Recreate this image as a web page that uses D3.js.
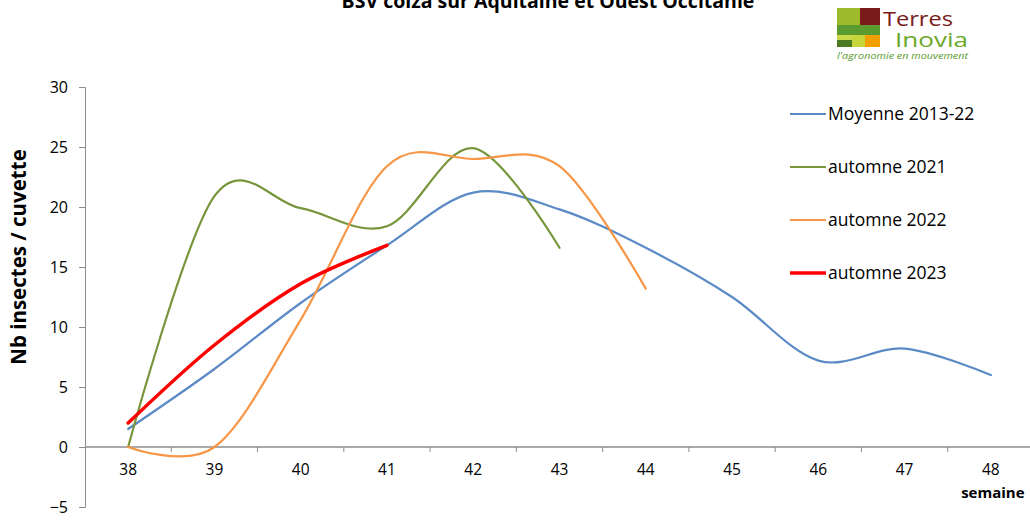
<!DOCTYPE html>
<html>
<head>
<meta charset="utf-8">
<script src="https://cdn.jsdelivr.net/npm/d3@7"></script>
<style>
  body { margin: 0; background: #fff; }
  svg { display: block; font-family: "Open Sans", "DejaVu Sans", sans-serif; }
</style>
</head>
<body>
<svg id="chart" width="1030" height="524"></svg>
<script>
const width = 1030
const height = 524
const margin = { top: 87, right: -4, bottom: 17, left: 85 }

const weeks = [38, 39, 40, 41, 42, 43, 44, 45, 46, 47, 48]
const yTicks = [-5, 0, 5, 10, 15, 20, 25, 30]

const moyenne = [1.5, 6.5, 12, 16.8, 21.2, 19.8, 16.6, 12.5, 7.2, 8.2, 6]
const automne2021 = [0, 20.9, 19.9, 18.4, 24.9, 16.6]
const automne2022 = [0, 0, 10.6, 23.4, 24, 23.4, 13.2]
const automne2023 = [2, 8.5, 13.6, 16.8]

const seriesNames = ['Moyenne 2013-22', 'automne 2021', 'automne 2022', 'automne 2023']
const seriesValues = [moyenne, automne2021, automne2022, automne2023]
const seriesColors = ['#5b8ac6', '#77963c', '#f79646', '#ff0000']
const seriesWidths = [2.2, 2.2, 2.2, 3.5]

const svg = d3.select('#chart')

const x = d3.scaleBand()
  .domain(weeks)
  .range([margin.left, width - margin.right])

const y = d3.scaleLinear()
  .domain([-5, 30])
  .range([height - margin.bottom, margin.top])

// title, cut at the top like the original
svg.append('text')
  .attr('x', 548).attr('y', 8)
  .attr('text-anchor', 'middle')
  .attr('font-size', 19.5).attr('font-weight', 'bold')
  .attr('fill', '#000')
  .text('BSV colza sur Aquitaine et Ouest Occitanie')

// y axis
const yAxis = svg.append('g')
  .attr('transform', `translate(${margin.left},0)`)
  .call(d3.axisLeft(y).tickValues(yTicks).tickSize(6).tickPadding(11))
yAxis.select('.domain').attr('stroke', '#8c8c8c')
yAxis.selectAll('.tick line').attr('stroke', '#8c8c8c')
yAxis.selectAll('.tick text').attr('font-size', 16).attr('fill', '#000')
  .attr('font-family', 'Open Sans, sans-serif')

// x axis at zero, ticks between categories
const xg = svg.append('g').attr('transform', `translate(0,${y(0)})`)
xg.append('line')
  .attr('x1', margin.left).attr('x2', width)
  .attr('stroke', '#8c8c8c').attr('stroke-width', 1.5)
xg.selectAll('line.tk')
  .data(weeks.slice(0, -1))
  .join('line')
  .attr('class', 'tk')
  .attr('x1', d => x(d) + x.bandwidth()).attr('x2', d => x(d) + x.bandwidth())
  .attr('y1', 0).attr('y2', 5)
  .attr('stroke', '#8c8c8c')
xg.selectAll('text')
  .data(weeks)
  .join('text')
  .attr('x', d => x(d) + x.bandwidth() / 2)
  .attr('y', 28)
  .attr('text-anchor', 'middle')
  .attr('font-size', 15.5)
  .text(d => d)

svg.append('text')
  .attr('x', x(48) + x.bandwidth() / 2 + 2).attr('y', y(0) + 51)
  .attr('text-anchor', 'middle')
  .attr('font-size', 15).attr('font-weight', 'bold')
  .text('semaine')

svg.append('text')
  .attr('transform', `translate(26,${(y(30) + y(-5)) / 2 - 40}) rotate(-90)`)
  .attr('text-anchor', 'middle')
  .attr('font-size', 20.5).attr('font-weight', 'bold')
  .text('Nb insectes / cuvette')

// lines
const line = d3.line()
  .x((d, i) => x(weeks[i]) + x.bandwidth() / 2)
  .y(d => y(d))
  .curve(d3.curveCatmullRom.alpha(0))

svg.append('g')
  .selectAll('path')
  .data(seriesValues)
  .join('path')
  .attr('d', d => line(d))
  .attr('fill', 'none')
  .attr('stroke', (d, i) => seriesColors[i])
  .attr('stroke-width', (d, i) => seriesWidths[i])
  .attr('stroke-linecap', 'round')

// legend
const legend = svg.append('g')
  .selectAll('g')
  .data(seriesNames)
  .join('g')
  .attr('transform', (d, i) => `translate(790,${114 + i * 53})`)
legend.append('line')
  .attr('x1', 0).attr('x2', 36)
  .attr('stroke', (d, i) => seriesColors[i])
  .attr('stroke-width', (d, i) => seriesWidths[i])
legend.append('text')
  .attr('x', 38).attr('dy', '0.35em')
  .attr('font-size', 17.5)
  .text(d => d)

// Terres Inovia logo
const logo = svg.append('g')
const blocks = [
  [837, 8, 23, 17, '#9cba2a'],
  [860, 8, 20, 17, '#7a1a1a'],
  [837, 25, 43, 10, '#5a9a2e'],
  [837, 35, 15, 5, '#c9d84a'],
  [837, 40, 15, 7, '#4b7a22'],
  [852, 35, 13, 12, '#c6d63a'],
  [865, 35, 15, 12, '#f0a000']
]
logo.selectAll('rect')
  .data(blocks)
  .join('rect')
  .attr('x', d => d[0]).attr('y', d => d[1])
  .attr('width', d => d[2]).attr('height', d => d[3])
  .attr('fill', d => d[4])
logo.append('text')
  .attr('x', 883).attr('y', 26)
  .attr('font-size', 20).attr('fill', '#7a1a1a')
  .attr('textLength', 70).attr('lengthAdjust', 'spacingAndGlyphs')
  .text('Terres')
logo.append('text')
  .attr('x', 895).attr('y', 47)
  .attr('font-size', 20).attr('fill', '#6aa72a')
  .attr('textLength', 73).attr('lengthAdjust', 'spacingAndGlyphs')
  .text('Inovia')
logo.append('text')
  .attr('x', 837).attr('y', 59)
  .attr('font-size', 8.5).attr('fill', '#5a9a2e')
  .attr('font-style', 'italic')
  .attr('textLength', 131).attr('lengthAdjust', 'spacingAndGlyphs')
  .text("l'agronomie en mouvement")
</script>
</body>
</html>
